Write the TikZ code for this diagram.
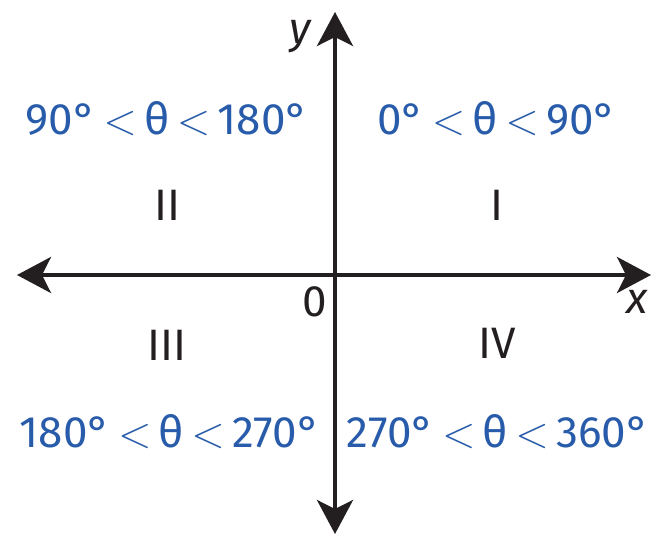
\documentclass[tikz,border=0pt]{standalone}
\usepackage{fix-cm}
\usepackage{fontspec}
\setmainfont{Fira Sans}
\usetikzlibrary{arrows.meta}
\definecolor{lblblue}{RGB}{40,92,170}
\definecolor{ink}{RGB}{35,31,32}
\newcommand{\lessmark}{\(<\)}
\tikzset{
  axisline/.style={line width=4pt, draw=ink, -{Stealth[length=34pt,width=36pt,inset=9pt]}},
  rangelbl/.style={text=lblblue, font=\fontsize{44}{44}\selectfont, inner sep=0pt, anchor=center},
  quadlbl/.style={text=ink, font=\fontsize{44}{44}\selectfont, inner sep=0pt, anchor=center},
  axlbl/.style={text=ink, font=\fontsize{44}{44}\selectfont\itshape, inner sep=0pt, anchor=center}
}
\begin{document}
\begin{tikzpicture}[x=1pt,y=1pt]
\useasboundingbox (0,0) rectangle (656,536);
\coordinate (O) at (335,261);
\coordinate (L) at (17,261);
\coordinate (R) at (651,261);
\coordinate (T) at (335,524);
\coordinate (B) at (335,2);
\draw[axisline] (O) -- (R);
\draw[axisline] (O) -- (L);
\draw[axisline] (O) -- (T);
\draw[axisline] (O) -- (B);
\node[axlbl] (ylbl) at (300,499) {y};
\node[axlbl] (xlbl) at (637,234) {x};
\node[quadlbl] (zero) at (315,234) {0};
\node[rangelbl] (r2) at (167,417) {90°\,\lessmark\,θ\,\lessmark\,180°};
\node[rangelbl] (r1) at (497,417) {0°\,\lessmark\,θ\,\lessmark\,90°};
\node[quadlbl] (q2) at (167,331) {II};
\node[quadlbl] (q1) at (497,331) {I};
\node[quadlbl] (q3) at (167,191) {III};
\node[quadlbl] (q4) at (497,193) {IV};
\node[rangelbl] (r3) at (170,104) {180°\,\lessmark\,θ\,\lessmark\,270°};
\node[rangelbl] (r4) at (498,104) {270°\,\lessmark\,θ\,\lessmark\,360°};
\end{tikzpicture}
\end{document}
